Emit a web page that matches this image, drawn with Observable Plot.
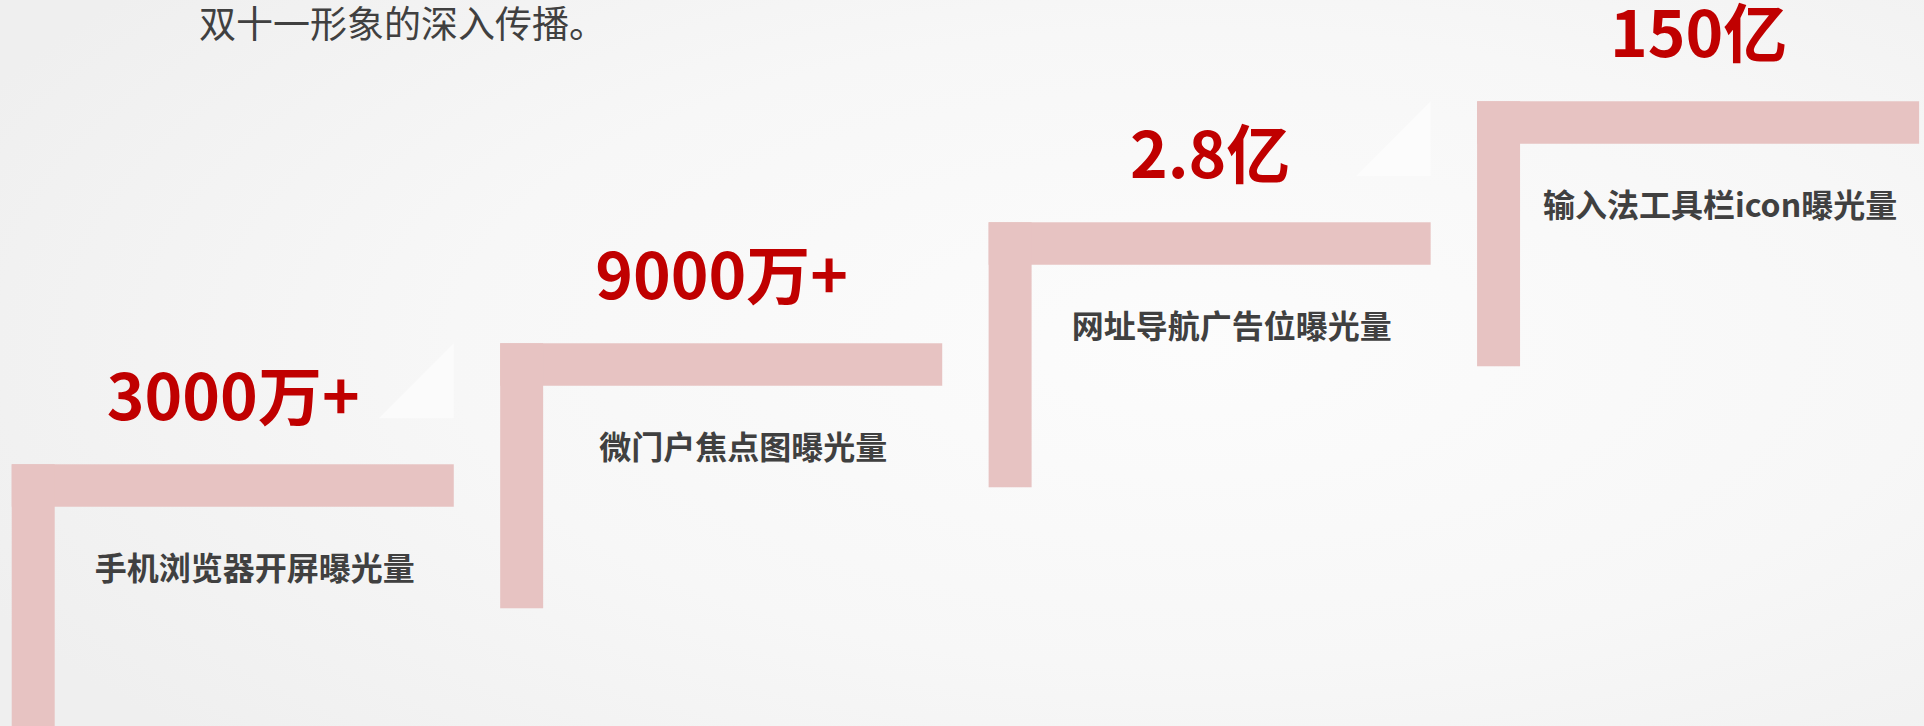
<!DOCTYPE html>
<html>
<head>
<meta charset="utf-8">
<script src="https://cdn.jsdelivr.net/npm/d3@7"></script>
<script src="https://cdn.jsdelivr.net/npm/@observablehq/plot@0.6"></script>
<style>
  html, body { margin: 0; padding: 0; overflow: hidden; }
  body {
    width: 1924px; height: 726px; position: relative;
    background: radial-gradient(ellipse 70% 80% at 62% 48%, #fcfcfc 0%, #f7f7f7 55%, #efefef 100%);
    font-family: "Noto Sans CJK SC", "Noto Sans", sans-serif;
  }
  #chart svg { display: block; background: transparent; }
  #title {
    position: absolute; left: 199px; top: 4px;
    font-size: 37px; line-height: 37px; color: #404040; font-weight: 400;
    font-family: "Noto Sans CJK SC", sans-serif; white-space: nowrap;
  }
</style>
</head>
<body>
<div id="chart"></div>
<div id="title"></div>
<script>
// ---- data ----
const title = "双十一形象的深入传播。";
const categories = ["手机浏览器开屏曝光量", "微门户焦点图曝光量", "网址导航广告位曝光量", "输入法工具栏icon曝光量"];
const valueLabels = ["3000万+", "9000万+", "2.8亿", "150亿"];
const values = [3000e4, 9000e4, 2.8e8, 150e8];
const levels = [0, 1, 2, 3];

// ---- layout constants (in step units) ----
const STEP_W = 0.905;      // width of each step's tread
const TREAD = 0.351;       // thickness of horizontal bar (level units)
const RISER_W = 0.088;     // width of vertical bar (step units)
const RISER_H = 2.19;      // depth of vertical bar (level units)

const rows = categories.map((c, i) => ({ cat: c, label: valueLabels[i], value: values[i], lv: levels[i] }));

// decorative faint triangles (visible on alternating steps in the original)
const tri = rows.filter(d => d.lv % 2 === 0).flatMap(d => [
  { lv: d.lv, x: d.lv + STEP_W - 0.1535, y1: d.lv + 0.38, y2: d.lv + 0.38 },
  { lv: d.lv, x: d.lv + STEP_W, y1: d.lv + 0.38, y2: d.lv + 1.0 }
]);

const barColor = "#e7c3c2";

const chart = Plot.plot({
  width: 1924,
  height: 726,
  margin: 0,
  x: { domain: [-0.024, 3.915], axis: null },
  y: { domain: [-2.163, 3.837], axis: null },
  style: { background: "transparent", fontFamily: "'Noto Sans CJK SC', sans-serif" },
  marks: [
    Plot.areaY(tri, { x: "x", y1: "y1", y2: "y2", z: "lv", fill: "#ffffff", fillOpacity: 0.5 }),
    // horizontal treads
    Plot.rect(rows, { x1: d => d.lv, x2: d => d.lv + STEP_W, y1: d => d.lv, y2: d => d.lv - TREAD, fill: barColor }),
    // vertical risers
    Plot.rect(rows, { x1: d => d.lv, x2: d => d.lv + RISER_W, y1: d => d.lv, y2: d => d.lv - RISER_H, fill: barColor }),
    // big red values
    Plot.text(rows, {
      x: d => d.lv + STEP_W / 2, y: d => d.lv + 0.37, text: "label",
      lineAnchor: "bottom", textAnchor: "middle",
      fill: "#c00000", fontSize: 64, fontWeight: 700,
      fontFamily: "'Noto Sans CJK SC', sans-serif"
    }),
    // category descriptions
    Plot.text(rows, {
      x: d => d.lv + (RISER_W + STEP_W) / 2, y: d => d.lv - 0.87, text: "cat",
      lineAnchor: "middle", textAnchor: "middle",
      fill: "#404040", fontSize: 32, fontWeight: 700,
      fontFamily: "'Noto Sans CJK SC', sans-serif"
    })
  ]
});
document.getElementById("chart").appendChild(chart);
document.getElementById("title").textContent = title;
</script>
</body>
</html>
